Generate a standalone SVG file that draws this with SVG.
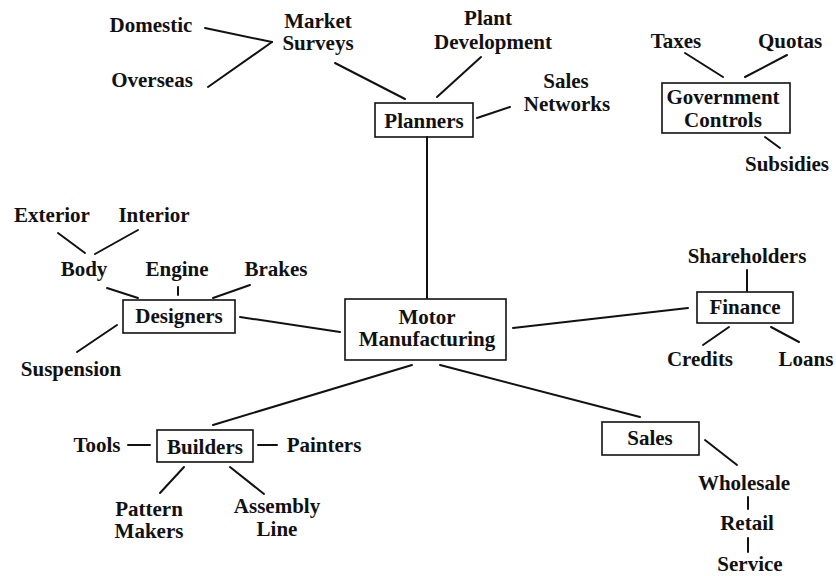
<svg xmlns="http://www.w3.org/2000/svg" width="836" height="576" viewBox="0 0 836 576">
<style>
text{font-family:"Liberation Serif","DejaVu Serif",serif;font-weight:bold;font-size:21px;fill:#111;text-anchor:middle}
.box{fill:none;stroke:#111;stroke-width:1.6}
line{stroke:#111;stroke-width:2;stroke-linecap:round}
</style>
<rect width="836" height="576" fill="#fff"/>
<g id="connectors">
<line x1="205" y1="28" x2="272" y2="42"/>
<line x1="208" y1="87" x2="272" y2="42"/>
<line x1="335" y1="63" x2="405" y2="99"/>
<line x1="481" y1="57" x2="437" y2="97"/>
<line x1="477" y1="118" x2="510" y2="107"/>
<line x1="427" y1="137" x2="427" y2="298"/>
<line x1="685" y1="53" x2="723" y2="77"/>
<line x1="787" y1="55" x2="745" y2="77"/>
<line x1="765" y1="137" x2="780" y2="148"/>
<line x1="58" y1="233" x2="85" y2="253"/>
<line x1="138" y1="230" x2="95" y2="254"/>
<line x1="107" y1="288" x2="138" y2="298"/>
<line x1="178" y1="287" x2="178" y2="295"/>
<line x1="250" y1="285" x2="213" y2="298"/>
<line x1="117" y1="325" x2="77" y2="352"/>
<line x1="240" y1="317" x2="340" y2="332"/>
<line x1="513" y1="328" x2="688" y2="308"/>
<line x1="747" y1="270" x2="747" y2="291"/>
<line x1="729" y1="327" x2="703" y2="345"/>
<line x1="771" y1="327" x2="799" y2="342"/>
<line x1="412" y1="365" x2="213" y2="425"/>
<line x1="440" y1="365" x2="640" y2="417"/>
<line x1="128" y1="445" x2="150" y2="445"/>
<line x1="258" y1="445" x2="277" y2="445"/>
<line x1="184" y1="467" x2="160" y2="493"/>
<line x1="230" y1="467" x2="264" y2="494"/>
<line x1="705" y1="440" x2="737" y2="465"/>
<line x1="748" y1="497" x2="748" y2="509"/>
<line x1="748" y1="538" x2="748" y2="552"/>
</g>
<g id="motor"><rect class="box" x="345" y="299" width="161" height="61"/><text x="427" y="324">Motor</text><text x="427" y="346">Manufacturing</text></g>
<g id="planners"><rect class="box" x="375" y="103" width="98" height="34"/><text x="424" y="128">Planners</text></g>
<g id="market-surveys"><text x="318" y="28">Market</text><text x="318" y="50">Surveys</text></g>
<g id="domestic"><text x="151" y="32">Domestic</text></g>
<g id="overseas"><text x="152" y="87">Overseas</text></g>
<g id="plant-development"><text x="488" y="25">Plant</text><text x="493" y="49">Development</text></g>
<g id="sales-networks"><text x="566" y="88">Sales</text><text x="567" y="111">Networks</text></g>
<g id="government-controls"><rect class="box" x="662" y="83" width="128" height="50"/><text x="723" y="104">Government</text><text x="723" y="127">Controls</text></g>
<g id="taxes"><text x="676" y="48">Taxes</text></g>
<g id="quotas"><text x="790" y="48">Quotas</text></g>
<g id="subsidies"><text x="787" y="171">Subsidies</text></g>
<g id="designers"><rect class="box" x="123" y="300" width="112" height="33"/><text x="179" y="323">Designers</text></g>
<g id="exterior"><text x="52" y="222">Exterior</text></g>
<g id="interior"><text x="154" y="222">Interior</text></g>
<g id="body"><text x="84" y="276">Body</text></g>
<g id="engine"><text x="177" y="276">Engine</text></g>
<g id="brakes"><text x="276" y="276">Brakes</text></g>
<g id="suspension"><text x="71" y="376">Suspension</text></g>
<g id="finance"><rect class="box" x="697" y="292" width="96" height="31"/><text x="745" y="314">Finance</text></g>
<g id="shareholders"><text x="747" y="263">Shareholders</text></g>
<g id="credits"><text x="700" y="366">Credits</text></g>
<g id="loans"><text x="806" y="366">Loans</text></g>
<g id="builders"><rect class="box" x="157" y="430" width="96" height="32"/><text x="205" y="454">Builders</text></g>
<g id="tools"><text x="97" y="452">Tools</text></g>
<g id="painters"><text x="324" y="452">Painters</text></g>
<g id="pattern-makers"><text x="149" y="516">Pattern</text><text x="149" y="538">Makers</text></g>
<g id="assembly-line"><text x="277" y="513">Assembly</text><text x="277" y="536">Line</text></g>
<g id="sales"><rect class="box" x="602" y="422" width="97" height="33"/><text x="650" y="445">Sales</text></g>
<g id="wholesale"><text x="744" y="490">Wholesale</text></g>
<g id="retail"><text x="747" y="530">Retail</text></g>
<g id="service"><text x="750" y="571">Service</text></g>
</svg>
